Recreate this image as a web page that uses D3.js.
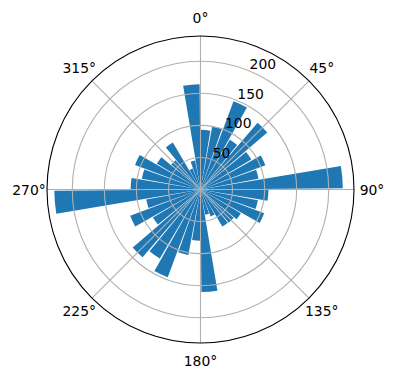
<html>
  <body style="margin:0">
    <style>
      body { background: #fff; }
      text { font-family: "DejaVu Sans", sans-serif; font-size: 13.9px; fill: #000; }
    </style>

    <script src="https://d3js.org/d3.v7.min.js"></script>

    <div id="chart"></div>

    <script>
      // bar centres (degrees, clockwise from north) and bar lengths
      const angles = [5, 15, 25, 35, 45, 55, 65, 75, 85,
                      95, 105, 115, 125, 135, 145, 155, 165, 175,
                      185, 195, 205, 215, 225, 235, 245, 255, 265,
                      275, 285, 295, 305, 315, 325, 335, 345, 355];
      const radii = [93, 100, 147, 90, 137, 92, 108, 92, 222,
                     106, 91, 106, 73, 68, 67, 45, 40, 160,
                     80, 104, 146, 125, 139, 86, 117, 86, 228,
                     109, 93, 109, 79, 60, 85, 35, 46, 164];
      const rTicks = [50, 100, 150, 200];
      const thetaTicks = [0, 45, 90, 135, 180, 225, 270, 315];

      const width = 396, height = 380;
      const cx = 200.5, cy = 189.5, outer = 153.5;
      const barWidth = 9; // degrees

      const svg = d3.select('#chart')
        .append('svg')
        .attr('width', width)
        .attr('height', height);

      const g = svg.append('g').attr('transform', `translate(${cx},${cy})`);

      const rScale = d3.scaleLinear()
        .domain([0, d3.max(radii) * 1.05])
        .range([0, outer]);
      const theta = d3.scaleLinear().domain([0, 360]).range([0, 2 * Math.PI]);

      // bars
      const arc = d3.arc()
        .innerRadius(0)
        .outerRadius((d) => rScale(d.r))
        .startAngle((d) => theta(d.a - barWidth / 2))
        .endAngle((d) => theta(d.a + barWidth / 2));

      g.append('g')
        .selectAll('path')
        .data(angles.map((a, i) => ({ a, r: radii[i] })))
        .join('path')
        .attr('d', arc)
        .attr('fill', '#1f77b4');

      // grid (drawn above the bars, like matplotlib)
      const grid = g.append('g').attr('fill', 'none').attr('stroke', '#b0b0b0').attr('stroke-width', 1.1);
      grid.selectAll('circle')
        .data(rTicks)
        .join('circle')
        .attr('r', rScale);
      grid.selectAll('line')
        .data(thetaTicks)
        .join('line')
        .attr('x1', 0)
        .attr('y1', 0)
        .attr('x2', (d) => outer * Math.sin(theta(d)))
        .attr('y2', (d) => -outer * Math.cos(theta(d)));

      // outer frame
      g.append('circle')
        .attr('r', outer)
        .attr('fill', 'none')
        .attr('stroke', '#000')
        .attr('stroke-width', 1.1);

      // radial labels at 22.5 degrees
      const labelAngle = theta(22.5);
      g.append('g')
        .selectAll('text')
        .data(rTicks)
        .join('text')
        .attr('x', (d) => rScale(d) * Math.sin(labelAngle))
        .attr('y', (d) => -rScale(d) * Math.cos(labelAngle) - 2)
        .attr('text-anchor', 'start')
        .text((d) => d);

      // angle labels
      const labelR = outer + 18;
      g.append('g')
        .selectAll('text')
        .data(thetaTicks)
        .join('text')
        .attr('x', (d) => labelR * Math.sin(theta(d)))
        .attr('y', (d) => -labelR * Math.cos(theta(d)))
        .attr('text-anchor', 'middle')
        .attr('dominant-baseline', 'central')
        .text((d) => d + '°');
    </script>
  </body>
</html>
